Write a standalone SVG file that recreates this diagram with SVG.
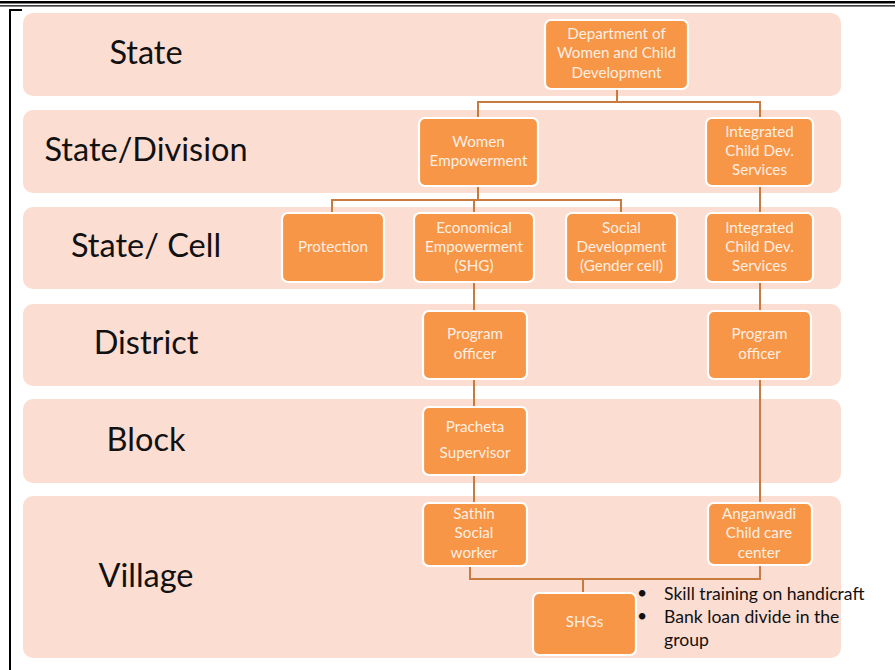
<svg xmlns="http://www.w3.org/2000/svg" width="896" height="670" viewBox="0 0 896 670">
<style>
.band{fill:#FCDDD1}
.node{fill:#F79646;stroke:#FFFFFF;stroke-width:2.2}
.nt{font-family:Lato,"Liberation Sans",sans-serif;font-size:15.2px;fill:#FFEFE3;text-anchor:middle}
.lbl{font-family:Lato,"Liberation Sans",sans-serif;font-size:32.5px;fill:#111111;text-anchor:middle}
.bt{font-family:Lato,"Liberation Sans",sans-serif;font-size:17.6px;fill:#111111}
.con{fill:none;stroke:#C97A3E;stroke-width:2}
</style>
<rect width="896" height="670" fill="#FFFFFF"/>
<g id="frame">
<line x1="0" y1="2.2" x2="895" y2="2.2" stroke="#000" stroke-width="2.6"/>
<line x1="0" y1="5.8" x2="895" y2="5.8" stroke="#000" stroke-width="1.3"/>
<polyline points="22,10 10,10 10,670" fill="none" stroke="#000" stroke-width="2"/>
</g>
<g id="bands">
<rect class="band" x="23" y="13" width="818" height="83" rx="10"/>
<rect class="band" x="23" y="110" width="818" height="83" rx="10"/>
<rect class="band" x="23" y="207" width="818" height="82" rx="10"/>
<rect class="band" x="23" y="304" width="818" height="82" rx="10"/>
<rect class="band" x="23" y="399" width="818" height="84" rx="10"/>
<rect class="band" x="23" y="496" width="818" height="162" rx="10"/>
</g>
<g id="labels">
<text class="lbl" x="146" y="64">State</text>
<text class="lbl" x="146" y="161">State/Division</text>
<text class="lbl" x="146" y="257">State/ Cell</text>
<text class="lbl" x="146" y="354">District</text>
<text class="lbl" x="146" y="451">Block</text>
<text class="lbl" x="146" y="587">Village</text>
</g>
<g id="connectors">
<polyline class="con" points="617,89 617,102"/>
<polyline class="con" points="478,118 478,102 760,102 760,118"/>
<polyline class="con" points="478,186 478,200"/>
<polyline class="con" points="332,213 332,200 621,200 621,213"/>
<polyline class="con" points="474,200 474,213"/>
<polyline class="con" points="760,186 760,213"/>
<polyline class="con" points="474,282 474,311"/>
<polyline class="con" points="760,282 760,311"/>
<polyline class="con" points="474,379 474,407"/>
<polyline class="con" points="474,475 474,503"/>
<polyline class="con" points="760,379 760,503"/>
<polyline class="con" points="470,566 470,579 760,579 760,565"/>
<polyline class="con" points="583,579 583,593"/>
</g>
<g id="n-dept">
<rect class="node" x="545" y="20" width="143" height="69" rx="6"/>
<text class="nt" x="616.5" y="39">Department of</text>
<text class="nt" x="616.5" y="58">Women and Child</text>
<text class="nt" x="616.5" y="78">Development</text>
</g>
<g id="n-we">
<rect class="node" x="419" y="118" width="119" height="68" rx="6"/>
<text class="nt" x="478.5" y="147">Women</text>
<text class="nt" x="478.5" y="166">Empowerment</text>
</g>
<g id="n-icds1">
<rect class="node" x="706" y="118" width="107" height="68" rx="6"/>
<text class="nt" x="759.5" y="137">Integrated</text>
<text class="nt" x="759.5" y="156">Child Dev.</text>
<text class="nt" x="759.5" y="175">Services</text>
</g>
<g id="n-prot">
<rect class="node" x="282" y="213" width="102" height="69" rx="6"/>
<text class="nt" x="333" y="252">Protection</text>
</g>
<g id="n-econ">
<rect class="node" x="414" y="213" width="120" height="69" rx="6"/>
<text class="nt" x="474" y="233">Economical</text>
<text class="nt" x="474" y="252">Empowerment</text>
<text class="nt" x="474" y="271">(SHG)</text>
</g>
<g id="n-social">
<rect class="node" x="566" y="213" width="111" height="69" rx="6"/>
<text class="nt" x="621.5" y="233">Social</text>
<text class="nt" x="621.5" y="252">Development</text>
<text class="nt" x="621.5" y="271">(Gender cell)</text>
</g>
<g id="n-icds2">
<rect class="node" x="706" y="213" width="107" height="69" rx="6"/>
<text class="nt" x="759.5" y="233">Integrated</text>
<text class="nt" x="759.5" y="252">Child Dev.</text>
<text class="nt" x="759.5" y="271">Services</text>
</g>
<g id="n-po1">
<rect class="node" x="423" y="311" width="104" height="68" rx="6"/>
<text class="nt" x="475" y="339">Program</text>
<text class="nt" x="475" y="359">officer</text>
</g>
<g id="n-po2">
<rect class="node" x="708" y="311" width="103" height="68" rx="6"/>
<text class="nt" x="759.5" y="339">Program</text>
<text class="nt" x="759.5" y="359">officer</text>
</g>
<g id="n-pracheta">
<rect class="node" x="423" y="407" width="104" height="68" rx="6"/>
<text class="nt" x="475" y="432">Pracheta</text>
<text class="nt" x="475" y="458">Supervisor</text>
</g>
<g id="n-sathin">
<rect class="node" x="423" y="503" width="104" height="63" rx="6"/>
<text class="nt" x="474" y="519">Sathin</text>
<text class="nt" x="474" y="538">Social</text>
<text class="nt" x="474" y="558">worker</text>
</g>
<g id="n-anganwadi">
<rect class="node" x="708" y="503" width="104" height="62" rx="6"/>
<text class="nt" x="759" y="519">Anganwadi</text>
<text class="nt" x="759" y="538">Child care</text>
<text class="nt" x="759" y="558">center</text>
</g>
<g id="n-shgs">
<rect class="node" x="533" y="593" width="103" height="62" rx="6"/>
<text class="nt" x="584.5" y="627">SHGs</text>
</g>
<g id="notes">
<text class="bt" x="637" y="599">•</text>
<text class="bt" x="664" y="600">Skill training on handicraft</text>
<text class="bt" x="637" y="622">•</text>
<text class="bt" x="664" y="623">Bank loan divide in the</text>
<text class="bt" x="664" y="646">group</text>
</g>
</svg>
